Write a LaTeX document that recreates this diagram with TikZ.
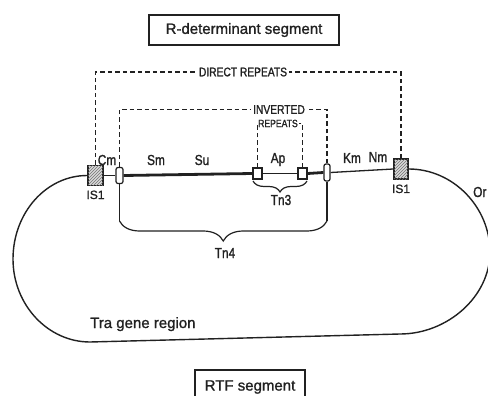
\documentclass[tikz,border=0pt]{standalone}
\usepackage{fontspec}
\setmainfont{Liberation Sans}
\newfontfamily\titlefont[FakeBold=1.2]{Liberation Sans}
\newfontfamily\condfont[FakeStretch=0.82,FakeBold=1.2]{Liberation Sans}
\usetikzlibrary{decorations.pathreplacing,patterns}
\definecolor{ink}{gray}{0.13}
\begin{document}
\begin{tikzpicture}[x=1pt,y=-1pt,
  titlebox/.style={draw=ink, line width=1.9pt, minimum width=190pt, minimum height=30pt, inner sep=0pt,
    font=\titlefont\fontsize{15}{17}\selectfont, text=ink},
  lab/.style={font=\condfont\fontsize{14.5}{16}\selectfont, text=ink, inner sep=0pt, anchor=base},
  small/.style={font=\titlefont\fontsize{12}{14}\selectfont, text=ink, inner sep=0pt, anchor=base},
  caps/.style={font=\condfont\fontsize{12.5}{14}\selectfont, text=ink, inner sep=2pt},
  is1box/.style={draw=ink, line width=1.5pt, minimum width=14pt, minimum height=20pt, inner sep=0pt,
    fill=gray!30, postaction={pattern=north east lines, pattern color=black!55}},
  tnbox/.style={draw=ink, line width=1.2pt, rounded corners=2pt, inner sep=0pt, fill=white},
  apbox/.style={draw=ink, line width=1.2pt, minimum width=9pt, minimum height=11pt, inner sep=0pt, fill=white},
  thinline/.style={draw=ink, line width=1.3pt},
  thickline/.style={draw=ink, line width=2.8pt},
  loopline/.style={draw=ink, line width=1.4pt},
  dashline/.style={draw=ink, line width=1.3pt, dash pattern=on 4.5pt off 3pt},
  braceline/.style={draw=ink, line width=1.2pt, decorate},
]
\useasboundingbox (0,0) rectangle (488,396);
\clip (0,0) rectangle (488,396);
\fill[white] (0,0) rectangle (488,396);

% titles
\node[titlebox] (title) at (244,30) {R-determinant segment};
\node[titlebox, minimum width=110pt, minimum height=34pt] (rtf) at (250,387) {RTF segment};

% elements on the R-determinant
\node[is1box, minimum width=15pt] (is1l) at (95.5,175.5) {};
\node[is1box] (is1r) at (401,169) {};
\node[tnbox, minimum width=7pt, minimum height=16pt] (tn4l) at (119.5,175.5) {};
\node[tnbox, minimum width=6pt, minimum height=17pt] (tn4r) at (327,172.5) {};
\node[apbox] (apl) at (257.5,173.5) {};
\node[apbox] (apr) at (302.5,173.5) {};

% backbone
\draw[thinline] (is1l.east) -- (tn4l.west);
\draw[thickline] (tn4l.east) -- (apl.west);
\draw[thinline] (apl.east) -- (apr.west);
\draw[thickline] (apr.east) -- (tn4r.west);
\draw[thinline] (tn4r.east) -- (is1r.west);

% RTF loop
\draw[loopline] (is1l.west) .. controls (46,175.5) and (13,213) .. (13,259)
  .. controls (13,305) and (48,342) .. (90,342) -- (400,334)
  .. controls (447,334) and (490,297) .. (490,252)
  .. controls (490,207) and (453,169) .. (is1r.east);

% gene labels
\node[lab] (cm) at (107,165) {Cm};
\node[lab] (sm) at (156,165) {Sm};
\node[lab] (su) at (202,165) {Su};
\node[lab] (ap) at (278,163) {Ap};
\node[lab] (km) at (352,163) {Km};
\node[lab] (nm) at (378,162) {Nm};
\node[lab, anchor=base west] (or) at (473,197) {Or};
\node[small] (is1ltxt) at (95.5,199) {IS1};
\node[small] (is1rtxt) at (401,193) {IS1};
\node[small, font=\titlefont\fontsize{15}{17}\selectfont, anchor=base west] (tra) at (90,328) {Tra gene region};

% repeats
\node[caps] (dr) at (243,72) {DIRECT REPEATS};
\node[caps] (inv) at (279,109.5) {INVERTED};
\node[caps, font=\condfont\fontsize{10.5}{12}\selectfont, inner sep=1pt] (rp) at (278,123.5) {REPEATS};
\draw[dashline] (is1l.north) |- (dr.west);
\draw[dashline] (is1r.north) |- (dr.east);
\draw[dashline] (tn4l.north) |- (inv.west);
\draw[dashline] (tn4r.north) |- (inv.east);
\draw[dashline] (apl.north) |- (rp.west);
\draw[dashline] (apr.north) |- (rp.east);

% Tn3 brace
\coordinate (t3a) at (307,181);
\coordinate (t3b) at (253,181);
\draw[braceline, decoration={brace, amplitude=11pt}] (t3a) -- (t3b);
\node[lab] (tn3) at (281,205) {Tn3};

% Tn4 brace
\coordinate (t4a) at (327,221);
\coordinate (t4b) at (119.5,221);
\draw[thinline, line width=1.2pt] (tn4l.south) -- (t4b);
\draw[thinline, line width=1.2pt] (tn4r.south) -- (t4a);
\draw[braceline, decoration={brace, amplitude=20pt}] (t4a) -- (t4b);
\node[lab] (tn4) at (225,258) {Tn4};
\end{tikzpicture}
\end{document}
